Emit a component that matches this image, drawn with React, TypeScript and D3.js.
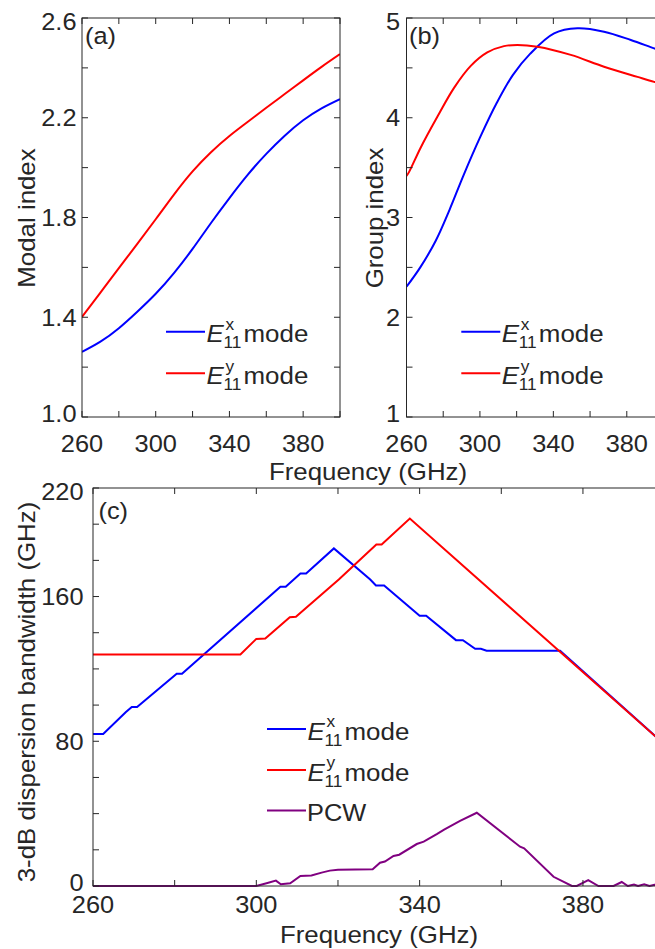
import React from 'react';
import * as d3 from 'd3';

const FONT = '"Liberation Sans", Arial, Helvetica, sans-serif';
const INK = '#262626';
const BLUE = '#0000ff';
const RED = '#ff0000';
const PURPLE = '#800080';

// ---------- (a) modal index ----------
const freqA = [260, 270, 280, 290, 300, 310, 320, 330, 340, 350, 360, 370, 380, 390, 400];
const modalEx = [1.261, 1.302, 1.356, 1.422, 1.494, 1.578, 1.674, 1.778, 1.878, 1.972, 2.055, 2.128, 2.19, 2.238, 2.275];
const modalEy = [1.401, 1.499, 1.597, 1.694, 1.793, 1.893, 1.985, 2.062, 2.127, 2.184, 2.24, 2.295, 2.35, 2.404, 2.455];

// ---------- (b) group index ----------
const groupFreqEx = [260, 267.5, 276, 283.5, 291, 300, 309.2, 318, 327.3, 340.4, 353.1, 367.6, 382.2, 394.9, 400];
const groupEx = [2.306, 2.5, 2.77, 3.08, 3.42, 3.8, 4.15, 4.43, 4.64, 4.846, 4.897, 4.863, 4.78, 4.696, 4.665];
const groupFreqEy = [260, 261.5, 267.7, 276.8, 285.9, 295, 304, 313.1, 320.4, 331.3, 349.5, 367.6, 385.8, 394.9, 400];
const groupEy = [3.416, 3.46, 3.7, 4.01, 4.3, 4.52, 4.655, 4.718, 4.73, 4.712, 4.63, 4.512, 4.41, 4.36, 4.335];

// ---------- (c) 3-dB dispersion bandwidth ----------
const bwFreqEx = [260, 262.5, 268, 269.5, 270.8, 280.5, 281.8, 305.9, 307.2, 310.8, 312.2, 319, 327.9, 329.3, 331.3, 340, 341.6, 348.9, 350.6, 353.6, 355, 356.4, 374.4, 400];
const bwEx = [84, 84, 96, 98.9, 98.9, 117.3, 117.3, 165.4, 165.4, 172.7, 172.7, 186.6, 169.4, 166.1, 166.1, 149.4, 149.4, 135.9, 135.9, 131.1, 131.1, 130, 130, 78.2];
const bwFreqEy = [260, 296.1, 300, 302.2, 308.2, 309.7, 320.2, 329.4, 330.7, 337.6, 400];
const bwEy = [128, 128, 136.6, 136.8, 148.6, 148.8, 169.4, 188.8, 188.8, 203.1, 78.2];
const bwFreqPcw = [260, 300, 302.5, 304.8, 306, 308.3, 310.8, 313.5, 316, 318, 320, 328.5, 330.3, 331.5, 333.6, 335, 339.3, 341, 344.2, 346, 349.9, 354, 364.6, 365.6, 372.8, 377.3, 378.5, 381.3, 383.8, 387.5, 389.5, 391, 392.5, 393.5, 395, 396.3, 397.5, 399, 400];
const bwPcw = [0, 0, 1.5, 3, 1, 1.5, 5.5, 5.8, 7.4, 8.5, 9, 9.3, 12.9, 13.5, 16.6, 17.3, 23.2, 24.5, 28.7, 31.2, 36, 40.5, 21.7, 20.8, 5.1, 0, 0, 3.3, 0, 0, 2.2, 0, 0.8, 0, 0.9, 0, 0.7, 0, 0.5];

// ---------- ticks ----------
const freqTicks = [260, 280, 300, 320, 340, 360, 380, 400];
const freqLabels = [260, 300, 340, 380];
const modalTicks = [1.0, 1.2, 1.4, 1.6, 1.8, 2.0, 2.2, 2.4, 2.6];
const modalLabels = [1.0, 1.4, 1.8, 2.2, 2.6];
const groupTicks = [1, 1.5, 2, 2.5, 3, 3.5, 4, 4.5, 5];
const groupLabels = [1, 2, 3, 4, 5];
const bwTicks = [0, 20, 40, 60, 80, 100, 120, 140, 160, 180, 200, 220];
const bwLabels = [0, 80, 160, 220];

type TxtProps = {
  x: number; y: number; children: React.ReactNode; anchor?: string; size?: number;
  rot?: number; sx?: number; italic?: boolean;
};
function Txt({ x, y, children, anchor = 'middle', size = 23.5, rot = 0, sx = 1.08, italic = false }: TxtProps) {
  return (
    <text
      transform={`translate(${x},${y}) rotate(${rot}) scale(${sx},1)`}
      textAnchor={anchor}
      fontSize={size}
      fontFamily={FONT}
      fill={INK}
      fontStyle={italic ? 'italic' : 'normal'}
    >
      {children}
    </text>
  );
}

type FrameProps = {
  xs: d3.ScaleLinear<number, number>;
  ys: d3.ScaleLinear<number, number>;
  yTicks: number[];
  yLabels: number[];
  yFmt: (v: number) => string;
  xLabelBase: number;
  yLabelRight: number;
};
function Frame({ xs, ys, yTicks, yLabels, yFmt, xLabelBase, yLabelRight }: FrameProps) {
  const [x0, x1] = xs.range();
  const [y1, y0] = ys.range();
  const t = 6;
  const [ymin, ymax] = ys.domain();
  return (
    <g>
      <rect x={x0} y={y0} width={x1 - x0} height={y1 - y0} fill="none" stroke={INK} strokeWidth={1} />
      {freqTicks.map((f) => (
        <g key={'xt' + f}>
          <line x1={xs(f)} x2={xs(f)} y1={y1} y2={y1 - t} stroke={INK} />
          <line x1={xs(f)} x2={xs(f)} y1={y0} y2={y0 + t} stroke={INK} />
        </g>
      ))}
      {yTicks.map((v) => (
        <g key={'yt' + v}>
          <line x1={x0} x2={x0 + t} y1={ys(v)} y2={ys(v)} stroke={INK} />
          <line x1={x1} x2={x1 - t} y1={ys(v)} y2={ys(v)} stroke={INK} />
        </g>
      ))}
      {freqLabels.map((f) => (
        <Txt key={'xl' + f} x={xs(f)} y={xLabelBase}>{String(f)}</Txt>
      ))}
      {yLabels.map((v) => {
        const dy = v === ymax ? 12.4 : v === ymin ? 5.2 : 8.4;
        return (
          <Txt key={'yl' + v} x={yLabelRight} y={ys(v) + dy} anchor="end">{yFmt(v)}</Txt>
        );
      })}
    </g>
  );
}

function Legend({ x, y, color, sup, label }: { x: number; y: number; color: string; sup?: string; label?: string }) {
  return (
    <g>
      <line x1={x} x2={x + 39} y1={y} y2={y} stroke={color} strokeWidth={2} />
      {label ? (
        <Txt x={x + 40} y={y + 10} anchor="start" size={23.5}>{label}</Txt>
      ) : (
        <g>
          <Txt x={x + 40.5} y={y + 10.5} anchor="start" size={24} italic>E</Txt>
          <Txt x={x + 57.5} y={y + 16.6} anchor="start" size={16}>11</Txt>
          <Txt x={x + 59.5} y={y - 1.7} anchor="start" size={16}>{sup}</Txt>
          <Txt x={x + 77.5} y={y + 10.5} anchor="start" size={24}>mode</Txt>
        </g>
      )}
    </g>
  );
}

function pathOf(xs: d3.ScaleLinear<number, number>, ys: d3.ScaleLinear<number, number>, fx: number[], fy: number[], curve: d3.CurveFactory) {
  const pts: [number, number][] = fx.map((f, i) => [f, fy[i]]);
  return d3.line<[number, number]>().x((d) => xs(d[0])).y((d) => ys(d[1])).curve(curve)(pts) || '';
}

export default function App() {
  const W = 655, H = 949;

  const xa = d3.scaleLinear().domain([260, 400]).range([82, 340]);
  const ya = d3.scaleLinear().domain([1, 2.6]).range([417, 18]);
  const xb = d3.scaleLinear().domain([260, 400]).range([406.5, 663.5]);
  const yb = d3.scaleLinear().domain([1, 5]).range([417, 18]);
  const xc = d3.scaleLinear().domain([260, 400]).range([93, 664.6]);
  const yc = d3.scaleLinear().domain([0, 220]).range([886, 488]);

  const smooth = d3.curveNatural;
  const smoothB = d3.curveCatmullRom.alpha(0.5);
  const lin = d3.curveLinear;

  return (
    <svg width={W} height={H} style={{ position: 'absolute', left: 0, top: 0, background: '#fff' }}>
      <rect x={0} y={0} width={W} height={H} fill="#fff" />
      <defs>
        <clipPath id="ca"><rect x={82} y={18} width={258} height={399} /></clipPath>
        <clipPath id="cb"><rect x={406.5} y={18} width={257} height={399} /></clipPath>
        <clipPath id="cc"><rect x={93} y={488} width={571.6} height={399} /></clipPath>
      </defs>

      {/* (a) */}
      <g clipPath="url(#ca)">
        <path d={pathOf(xa, ya, freqA, modalEx, smooth)} fill="none" stroke={BLUE} strokeWidth={2} />
        <path d={pathOf(xa, ya, freqA, modalEy, smooth)} fill="none" stroke={RED} strokeWidth={2} />
      </g>
      <Frame xs={xa} ys={ya} yTicks={modalTicks} yLabels={modalLabels} yFmt={(v) => v.toFixed(1)} xLabelBase={451.5} yLabelRight={76.5} />
      <Txt x={85} y={44} anchor="start">(a)</Txt>
      <Txt x={35} y={218} rot={-90} sx={1.1}>Modal index</Txt>
      <Legend x={166} y={331.7} color={BLUE} sup="x" />
      <Legend x={166} y={373.3} color={RED} sup="y" />

      {/* (b) */}
      <g clipPath="url(#cb)">
        <path d={pathOf(xb, yb, groupFreqEx, groupEx, smoothB)} fill="none" stroke={BLUE} strokeWidth={2} />
        <path d={pathOf(xb, yb, groupFreqEy, groupEy, smoothB)} fill="none" stroke={RED} strokeWidth={2} />
      </g>
      <Frame xs={xb} ys={yb} yTicks={groupTicks} yLabels={groupLabels} yFmt={(v) => String(v)} xLabelBase={451.5} yLabelRight={400} />
      <Txt x={409} y={44} anchor="start">(b)</Txt>
      <Txt x={383} y={218} rot={-90} sx={1.1}>Group index</Txt>
      <Legend x={461.3} y={331.7} color={BLUE} sup="x" />
      <Legend x={461.3} y={373.3} color={RED} sup="y" />

      <Txt x={368} y={480} sx={1.1}>Frequency (GHz)</Txt>

      {/* (c) */}
      <g clipPath="url(#cc)">
        <path d={pathOf(xc, yc, bwFreqEx, bwEx, lin)} fill="none" stroke={BLUE} strokeWidth={2} />
        <path d={pathOf(xc, yc, bwFreqEy, bwEy, lin)} fill="none" stroke={RED} strokeWidth={2} />
        <path d={pathOf(xc, yc, bwFreqPcw, bwPcw, lin)} fill="none" stroke={PURPLE} strokeWidth={2} />
      </g>
      <Frame xs={xc} ys={yc} yTicks={bwTicks} yLabels={bwLabels} yFmt={(v) => String(v)} xLabelBase={913} yLabelRight={83.5} />
      <Txt x={98.5} y={519} anchor="start">(c)</Txt>
      <Txt x={35} y={692} rot={-90} sx={1.1}>3-dB dispersion bandwidth (GHz)</Txt>
      <Legend x={267} y={729} color={BLUE} sup="x" />
      <Legend x={267} y={770} color={RED} sup="y" />
      <Legend x={267} y={810.5} color={PURPLE} label="PCW" />

      <Txt x={379} y={943} sx={1.1}>Frequency (GHz)</Txt>
    </svg>
  );
}
